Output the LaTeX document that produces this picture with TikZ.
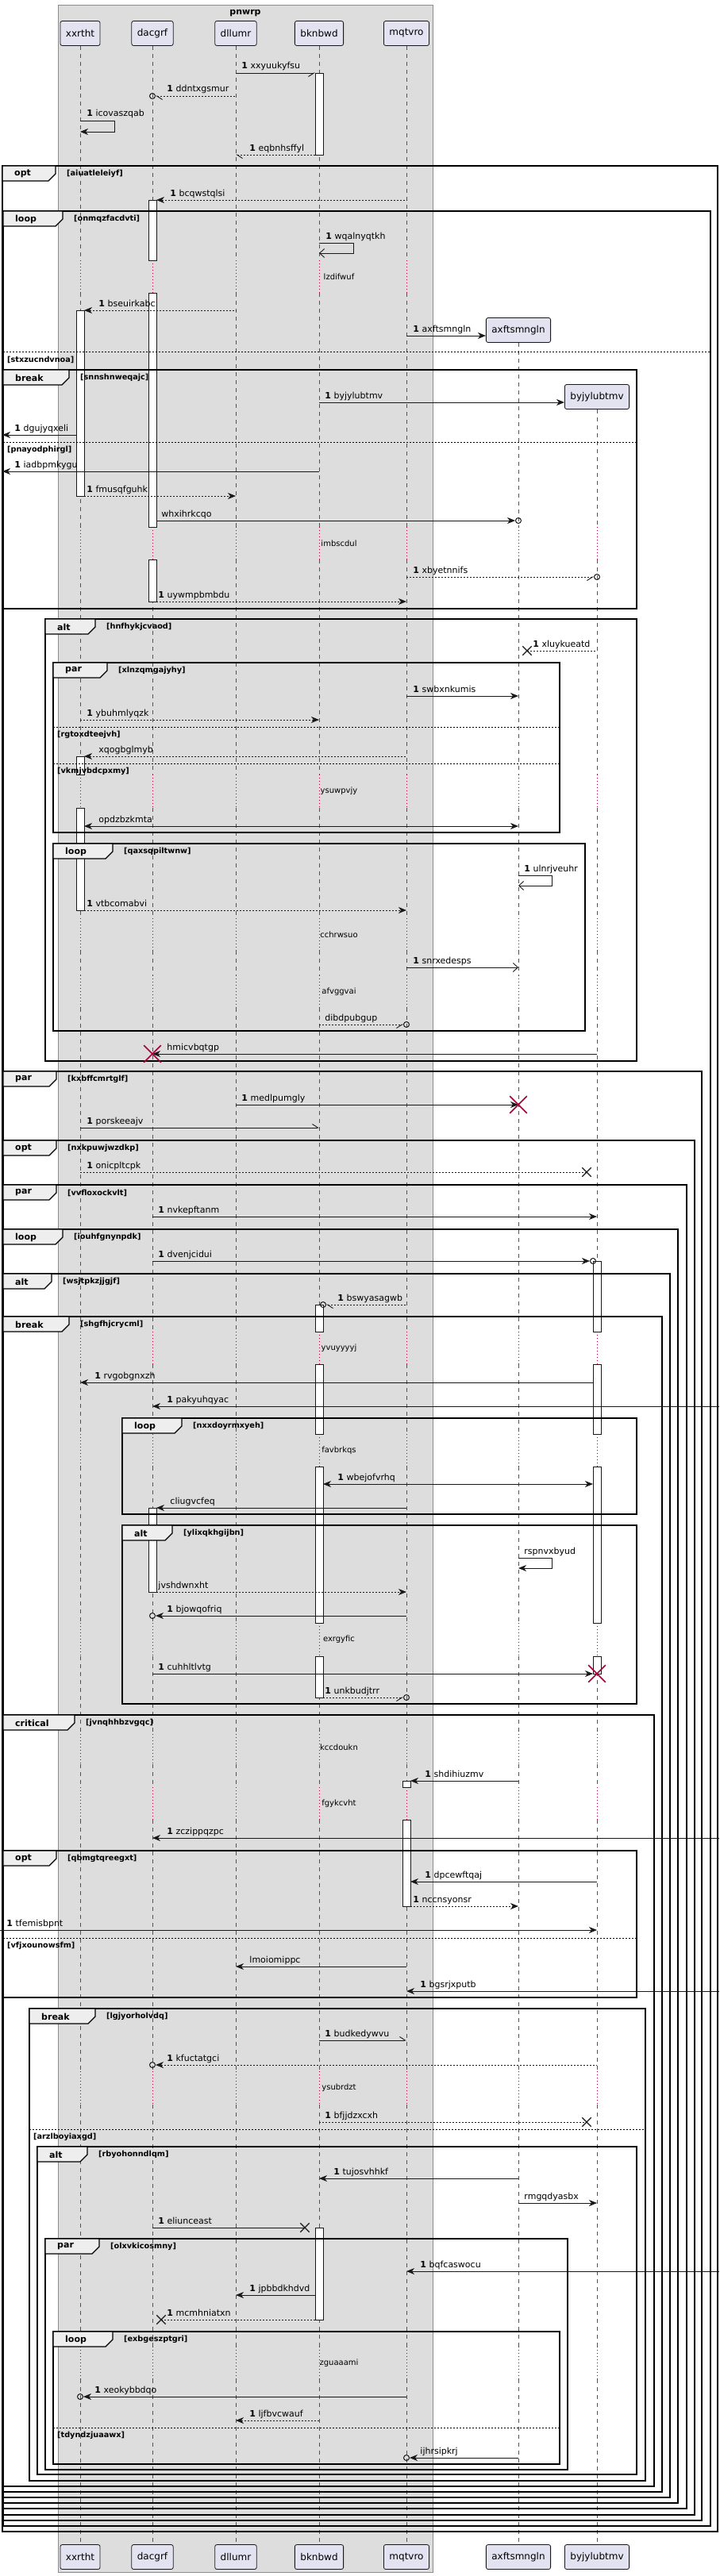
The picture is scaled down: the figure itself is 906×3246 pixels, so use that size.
\documentclass[tikz,border=0pt]{standalone}
\usepackage{fontspec}
\setmainfont{DejaVu Sans}
\usepackage{tikz}
\usetikzlibrary{arrows.meta, calc, shapes.misc}
\definecolor{partfill}{HTML}{E2E2F0}
\definecolor{linecol}{HTML}{181818}
\definecolor{boxfill}{HTML}{DDDDDD}
\definecolor{boxline}{HTML}{8C8C8C}
\definecolor{tabfill}{HTML}{EEEEEE}
\definecolor{killred}{HTML}{A80036}

\begin{document}
\begin{tikzpicture}[x=1pt, y=-1pt,
    >={Stealth[length=10pt, width=8pt, inset=3pt]},
    partbox/.style={rectangle, rounded corners=2.5pt, draw=linecol, fill=partfill, line width=0.8pt,
                    minimum height=31pt, inner xsep=7pt, font=\fontsize{12}{14}\selectfont},
    grpbox/.style={draw=boxline, fill=boxfill, line width=0.8pt},
    boxtitle/.style={font=\fontsize{11}{13}\selectfont\bfseries, inner sep=0pt},
    lifeline/.style={draw=linecol!75, line width=0.7pt, dash pattern=on 5pt off 5pt},
    delayline/.style={draw=killred, line width=0.8pt, dash pattern=on 1pt off 3pt},
    delaytxt/.style={font=\fontsize{10}{12}\selectfont, inner sep=0pt},
    actbar/.style={draw=linecol, fill=white, line width=0.8pt},
    grpframe/.style={draw=black, line width=1.5pt},
    grptab/.style={draw=black, fill=tabfill, line width=1.2pt},
    grpkw/.style={anchor=west, inner sep=0pt, font=\fontsize{11}{13}\selectfont\bfseries},
    condtxt/.style={anchor=west, inner sep=0pt, font=\fontsize{9.7}{12}\selectfont\bfseries},
    elseline/.style={draw=black, line width=0.9pt, dash pattern=on 2pt off 2pt},
    msg/.style={draw=linecol, line width=0.9pt},
    dotmsg/.style={msg, dash pattern=on 2pt off 2pt},
    halfR/.style={-{Straight Barb[harpoon, swap, length=7pt, width=9pt]}},
    halfRup/.style={-{Straight Barb[harpoon, length=7pt, width=9pt]}},
    halfL/.style={{Straight Barb[harpoon, length=7pt, width=9pt]}-},
    openR/.style={-{Straight Barb[length=6pt, width=11pt]}},
    lbl/.style={anchor=base west, inner sep=0pt, yshift=5pt, font=\fontsize{11}{13}\selectfont},
    ocirc/.style={circle, draw=linecol, line width=1pt, minimum size=7pt, inner sep=0pt},
    lostx/.style={cross out, draw=linecol, line width=1.3pt, minimum size=10pt, inner sep=0pt},
    destroyx/.style={cross out, draw=killred, line width=1.6pt, minimum size=20pt, inner sep=0pt}
]
\useasboundingbox (0,0) rectangle (906,3246);
\fill[white] (0,0) rectangle (906,3246);
\draw[grpbox] (73,6) rectangle (545,3241);
\node[boxtitle] (pnwrp) at (309,17) {pnwrp};

\coordinate (lft0) at (0,0);
\coordinate (lft)  at (3,0);
\coordinate (rgt)  at (906,0);

\node[partbox] (xxrtht)     at (101,42)  {xxrtht};
\node[partbox] (dacgrf)     at (192,42)  {dacgrf};
\node[partbox] (dllumr)     at (297,42)  {dllumr};
\node[partbox] (bknbwd)     at (402,42)  {bknbwd};
\node[partbox] (mqtvro)     at (512,42)  {mqtvro};
\node[partbox] (axftsmngln) at (653,416) {axftsmngln};
\node[partbox] (byjylubtmv) at (752,500) {byjylubtmv};
\foreach \p/\x in {xxrtht/101, dacgrf/192, dllumr/297, bknbwd/402, mqtvro/512, axftsmngln/653, byjylubtmv/752}
  \node[partbox] (\p2) at (\x,3222) {\p};

\foreach \p in {xxrtht,dacgrf,dllumr,bknbwd,mqtvro}{
  \draw[lifeline] (\p.south) -- (\p |- 0,328);
  \draw[delayline] (\p |- 0,328) -- (\p |- 0,369);
  \draw[lifeline] (\p |- 0,369) -- (\p |- 0,664);
}
\draw[lifeline] (axftsmngln.south) -- (axftsmngln |- 0,664);
\draw[lifeline] (byjylubtmv.south) -- (byjylubtmv |- 0,664);
\foreach \p in {xxrtht,dacgrf,dllumr,bknbwd,mqtvro,axftsmngln,byjylubtmv}{
  \foreach \a/\b in {664/705,976/1018,1157/1198,1229/1270,1678/1719,1807/1848,2045/2087,2181/2223,2252/2293,2610/2652,2957/2998}
    \draw[delayline] (\p |- 0,\a) -- (\p |- 0,\b);
  \foreach \a/\b in {705/976,1018/1157,1198/1229,1270/1678,1719/1807,1848/2045,2087/2181,2223/2252,2293/2610,2652/2957}
    \draw[lifeline] (\p |- 0,\a) -- (\p |- 0,\b);
  \draw[lifeline] (\p |- 0,2998) -- (\p2.north);
}
\foreach \a/\b/\t [count=\i] in {328/369/lzdifwuf, 664/705/imbscdul, 976/1018/ysuwpvjy, 1157/1198/cchrwsuo,
    1229/1270/afvggvai, 1678/1719/yvuyyyyj, 1807/1848/favbrkqs, 2045/2087/exrgyfic, 2181/2223/kccdoukn,
    2252/2293/fgykcvht, 2610/2652/ysubrdzt, 2957/2998/zguaaami}
  \node[delaytxt] (dly\i) at (427,{(\a+\b)/2}) {\t};

\foreach \p/\a/\b in {bknbwd/92/195, dacgrf/252/328, dacgrf/369/664, dacgrf/705/758, xxrtht/391/625,
    xxrtht/953/976, xxrtht/1018/1147, byjylubtmv/1589/1678, byjylubtmv/1719/1807, byjylubtmv/1848/2045,
    byjylubtmv/2087/2109, bknbwd/1644/1678, bknbwd/1719/1807, bknbwd/1848/2045, bknbwd/2087/2139,
    dacgrf/1900/2006, mqtvro/2244/2252, mqtvro/2293/2402, bknbwd/2807/2923}
  \draw[actbar] ($(\p |- 0,\a)+(-5,0)$) rectangle ($(\p |- 0,\b)+(5,0)$);

\foreach \xa/\ya/\xb/\yb/\kw/\tw/\cnd [count=\i] in {
    3/209/904/3190/opt/67/aiuatleleiyf,
    4/266/895/3183/loop/75/onmqzfacdvti,
    4/466/802/767/break/83/snnshnweqajc,
    57/780/802/1337/alt/63/hnfhykjcvaod,
    67/835/705/1049/par/68/xlnzqmgajyhy,
    67/1063/737/1299/loop/75/qaxsqpiltwnw,
    4/1350/884/3176/par/67/kxbffcmrtglf,
    4/1437/875/3169/opt/67/nxkpuwjwzdkp,
    4/1493/865/3161/par/67/vvfloxockvlt,
    4/1549/854/3154/loop/75/iouhfgnynpdk,
    4/1605/844/3147/alt/61/wsjtpkzjjgjf,
    4/1659/834/3140/break/83/shgfhjcrycml,
    154/1787/802/1908/loop/75/nxxdoyrmxyeh,
    154/1922/802/2147/alt/63/ylixqkhgijbn,
    4/2161/824/3133/critical/90/jvnqhhbzvgqc,
    4/2332/802/2517/opt/67/qbmgtqreegxt,
    37/2531/813/3126/break/83/lgjyorholvdq,
    47/2705/802/3118/alt/63/rbyohonndlqm,
    57/2821/715/3112/par/68/olxvkicosmny,
    67/2938/705/3105/loop/75/exbgeszptgri}{
  \draw[grpframe] (\xa,\ya) rectangle (\xb,\yb);
  \draw[grptab] (\xa,\ya) -- (\xa+\tw,\ya) -- (\xa+\tw,\ya+10) -- (\xa+\tw-9,\ya+19) -- (\xa,\ya+19) -- cycle;
  \node[grpkw] (kw\i) at (\xa+15,\ya+10) {\kw};
  \node[condtxt] (cnd\i) at (\xa+\tw+14,\ya+10) {[\cnd]};
}
\foreach \xa/\xb/\y/\cnd [count=\i] in {4/895/443/stxzucndvnoa, 4/802/557/pnayodphirgl, 67/705/916/rgtoxdteejvh,
    67/705/962/vkmjvbdcpxmy, 4/802/2442/vfjxounowsfm, 37/813/2683/arzlboyiaxgd, 67/705/3059/tdyndzjuaawx}{
  \draw[elseline] (\xa,\y) -- (\xb,\y);
  \node[condtxt] (els\i) at (\xa+5,\y+10) {[\cnd]};
}

\draw[msg, halfR, shorten >=5pt] (dllumr |- 0,92) -- (bknbwd |- 0,92)
  node[lbl, pos=0, xshift=7pt] (m1) {\textbf{1} xxyuukyfsu};
\node[ocirc] (c2) at (dacgrf |- 0,121) {};
\draw[dotmsg, halfL] (c2) -- (dllumr |- 0,121)
  node[lbl, pos=0, xshift=14pt] (m2) {\textbf{1} ddntxgsmur};
\draw[msg, ->] (xxrtht |- 0,152) node[lbl, xshift=8pt] (m3) {\textbf{1} icovaszqab}
  -- ++(43,0) -- ++(0,14) -- (xxrtht |- 0,166);
\draw[dotmsg, halfL, shorten >=5pt] (dllumr |- 0,195) -- (bknbwd |- 0,195)
  node[lbl, pos=0, xshift=17pt] (m4) {\textbf{1} eqbnhsffyl};
\draw[dotmsg, <-, shorten <=5pt] (dacgrf |- 0,252) -- (mqtvro |- 0,252)
  node[lbl, pos=0, xshift=22pt] (m5) {\textbf{1} bcqwstqlsi};
\draw[msg, openR] (bknbwd |- 0,306) node[lbl, xshift=8pt] (m6) {\textbf{1} wqalnyqtkh}
  -- ++(43,0) -- ++(0,13) -- (bknbwd |- 0,319);
\draw[dotmsg, <-, shorten <=5pt] (xxrtht |- 0,391) -- (dllumr |- 0,391)
  node[lbl, pos=0, xshift=23pt] (m7) {\textbf{1} bseuirkabc};
\draw[msg, ->] (mqtvro |- 0,423) -- (axftsmngln.west |- 0,423)
  node[lbl, pos=0, xshift=8pt] (m8) {\textbf{1} axftsmngln};
\draw[msg, ->] (bknbwd |- 0,507) -- (byjylubtmv.west |- 0,507)
  node[lbl, pos=0, xshift=7pt] (m9) {\textbf{1} byjylubtmv};
\draw[msg, <-, shorten >=5pt] (lft |- 0,548) -- (xxrtht |- 0,548)
  node[lbl, pos=0, xshift=15pt] (m10) {\textbf{1} dgujyqxeli};
\draw[msg, <-] (lft |- 0,594) -- (bknbwd |- 0,594)
  node[lbl, pos=0, xshift=15pt] (m11) {\textbf{1} iadbpmkygu};
\draw[dotmsg, ->, shorten <=5pt] (xxrtht |- 0,625) -- (dllumr |- 0,625)
  node[lbl, pos=0, xshift=8pt] (m12) {\textbf{1} fmusqfguhk};
\node[ocirc] (c13) at (axftsmngln |- 0,656) {};
\draw[msg, ->, shorten <=5pt] (dacgrf |- 0,656) -- (c13)
  node[lbl, pos=0, xshift=11pt] (m13) {whxihrkcqo};
\node[ocirc] (c14) at (byjylubtmv |- 0,727) {};
\draw[dotmsg, halfR] (mqtvro |- 0,727) -- (c14)
  node[lbl, pos=0, xshift=8pt] (m14) {\textbf{1} xbyetnnifs};
\draw[dotmsg, ->, shorten <=5pt] (dacgrf |- 0,758) -- (mqtvro |- 0,758)
  node[lbl, pos=0, xshift=7pt] (m15) {\textbf{1} uywmpbmbdu};
\node[lostx, xshift=11pt] (x16) at (axftsmngln |- 0,820) {};
\draw[dotmsg] (x16.center) -- (byjylubtmv |- 0,820)
  node[lbl, pos=0, xshift=7pt] (m16) {\textbf{1} xluykueatd};
\draw[msg, ->] (mqtvro |- 0,877) -- (axftsmngln |- 0,877)
  node[lbl, pos=0, xshift=8pt] (m17) {\textbf{1} swbxnkumis};
\draw[dotmsg, ->] (xxrtht |- 0,907) -- (bknbwd |- 0,907)
  node[lbl, pos=0, xshift=8pt] (m18) {\textbf{1} ybuhmlyqzk};
\draw[dotmsg, <-, shorten <=5pt] (xxrtht |- 0,953) -- (mqtvro |- 0,953)
  node[lbl, pos=0, xshift=23pt] (m19) {xqogbglmyb};
\draw[msg, <->, shorten <=5pt] (xxrtht |- 0,1041) -- (axftsmngln |- 0,1041)
  node[lbl, pos=0, xshift=23pt] (m20) {opdzbzkmta};
\draw[msg, openR] (axftsmngln |- 0,1103) node[lbl, xshift=7pt] (m21) {\textbf{1} ulnrjveuhr}
  -- ++(42,0) -- ++(0,13) -- (axftsmngln |- 0,1116);
\draw[dotmsg, ->, shorten <=5pt] (xxrtht |- 0,1147) -- (mqtvro |- 0,1147)
  node[lbl, pos=0, xshift=8pt] (m22) {\textbf{1} vtbcomabvi};
\draw[msg, openR] (mqtvro |- 0,1219) -- (axftsmngln |- 0,1219)
  node[lbl, pos=0, xshift=8pt] (m23) {\textbf{1} snrxedesps};
\node[ocirc] (c24) at (mqtvro |- 0,1291) {};
\draw[dotmsg, halfR] (bknbwd |- 0,1291) -- (c24)
  node[lbl, pos=0, xshift=7pt] (m24) {dibdpubgup};
\draw[msg, <-] (dacgrf |- 0,1328) -- (byjylubtmv |- 0,1328)
  node[lbl, pos=0, xshift=18pt] (m25) {hmicvbqtgp};
\node[destroyx] (k25) at (dacgrf |- 0,1328) {};
\draw[msg, ->] (dllumr |- 0,1392) -- (axftsmngln |- 0,1392)
  node[lbl, pos=0, xshift=7pt] (m26) {\textbf{1} medlpumgly};
\node[destroyx] (k26) at (axftsmngln |- 0,1392) {};
\draw[msg, halfRup] (xxrtht |- 0,1421) -- (bknbwd |- 0,1421)
  node[lbl, pos=0, xshift=8pt] (m27) {\textbf{1} porskeeajv};
\node[lostx, xshift=-13pt] (x28) at (byjylubtmv |- 0,1477) {};
\draw[dotmsg] (xxrtht |- 0,1477) -- (x28.center)
  node[lbl, pos=0, xshift=8pt] (m28) {\textbf{1} onicpltcpk};
\draw[msg, ->] (dacgrf |- 0,1533) -- (byjylubtmv |- 0,1533)
  node[lbl, pos=0, xshift=7pt] (m29) {\textbf{1} nvkepftanm};
\node[ocirc, xshift=-5pt] (c30) at (byjylubtmv |- 0,1589) {};
\draw[msg, ->] (dacgrf |- 0,1589) -- (c30)
  node[lbl, pos=0, xshift=7pt] (m30) {\textbf{1} dvenjcidui};
\node[ocirc, xshift=5pt] (c31) at (bknbwd |- 0,1644) {};
\draw[dotmsg, halfL] (c31) -- (mqtvro |- 0,1644)
  node[lbl, pos=0, xshift=14pt] (m31) {\textbf{1} bswyasagwb};
\draw[msg, <-, shorten >=5pt] (xxrtht |- 0,1742) -- (byjylubtmv |- 0,1742)
  node[lbl, pos=0, xshift=18pt] (m32) {\textbf{1} rvgobgnxzh};
\draw[msg, <-] (dacgrf |- 0,1772) -- (rgt |- 0,1772)
  node[lbl, pos=0, xshift=18pt] (m33) {\textbf{1} pakyuhqyac};
\draw[msg, <->, shorten <=5pt, shorten >=5pt] (bknbwd |- 0,1870) -- (byjylubtmv |- 0,1870)
  node[lbl, pos=0, xshift=23pt] (m34) {\textbf{1} wbejofvrhq};
\draw[msg, <-, shorten <=5pt] (dacgrf |- 0,1900) -- (mqtvro |- 0,1900)
  node[lbl, pos=0, xshift=22pt] (m35) {cliugvcfeq};
\draw[msg, ->] (axftsmngln |- 0,1963) node[lbl, xshift=7pt] (m36) {rspnvxbyud}
  -- ++(42,0) -- ++(0,13) -- (axftsmngln |- 0,1976);
\draw[dotmsg, ->, shorten <=5pt] (dacgrf |- 0,2006) -- (mqtvro |- 0,2006)
  node[lbl, pos=0, xshift=7pt] (m37) {jvshdwnxht};
\node[ocirc] (c38) at (dacgrf |- 0,2036) {};
\draw[msg, <-] (c38) -- (mqtvro |- 0,2036)
  node[lbl, pos=0, xshift=14pt] (m38) {\textbf{1} bjowqofriq};
\draw[msg, ->, shorten >=5pt] (dacgrf |- 0,2109) -- (byjylubtmv |- 0,2109)
  node[lbl, pos=0, xshift=7pt] (m39) {\textbf{1} cuhhltlvtg};
\node[destroyx] (k39) at (byjylubtmv |- 0,2109) {};
\node[ocirc] (c40) at (mqtvro |- 0,2139) {};
\draw[dotmsg, halfR, shorten <=5pt] (bknbwd |- 0,2139) -- (c40)
  node[lbl, pos=0, xshift=7pt] (m40) {\textbf{1} unkbudjtrr};
\draw[msg, <-, shorten <=5pt] (mqtvro |- 0,2244) -- (axftsmngln |- 0,2244)
  node[lbl, pos=0, xshift=23pt] (m41) {\textbf{1} shdihiuzmv};
\draw[msg, <-] (dacgrf |- 0,2316) -- (rgt |- 0,2316)
  node[lbl, pos=0, xshift=18pt] (m42) {\textbf{1} zczippqzpc};
\draw[msg, <-, shorten <=5pt] (mqtvro |- 0,2371) -- (byjylubtmv |- 0,2371)
  node[lbl, pos=0, xshift=23pt] (m43) {\textbf{1} dpcewftqaj};
\draw[dotmsg, ->, shorten <=5pt] (mqtvro |- 0,2402) -- (axftsmngln |- 0,2402)
  node[lbl, pos=0, xshift=8pt] (m44) {\textbf{1} nccnsyonsr};
\draw[msg, ->] (lft0 |- 0,2432) -- (byjylubtmv |- 0,2432)
  node[lbl, pos=0, xshift=8pt] (m45) {\textbf{1} tfemisbpnt};
\draw[msg, <-] (dllumr |- 0,2478) -- (mqtvro |- 0,2478)
  node[lbl, pos=0, xshift=17pt] (m46) {lmoiomippc};
\draw[msg, <-] (mqtvro |- 0,2509) -- (rgt |- 0,2509)
  node[lbl, pos=0, xshift=17pt] (m47) {\textbf{1} bgsrjxputb};
\draw[msg, halfRup] (bknbwd |- 0,2571) -- (mqtvro |- 0,2571)
  node[lbl, pos=0, xshift=7pt] (m48) {\textbf{1} budkedywvu};
\node[ocirc] (c49) at (dacgrf |- 0,2602) {};
\draw[dotmsg, <-] (c49) -- (byjylubtmv |- 0,2602)
  node[lbl, pos=0, xshift=14pt] (m49) {\textbf{1} kfuctatgci};
\node[lostx, xshift=-13pt] (x50) at (byjylubtmv |- 0,2674) {};
\draw[dotmsg] (bknbwd |- 0,2674) -- (x50.center)
  node[lbl, pos=0, xshift=7pt] (m50) {\textbf{1} bfjjdzxcxh};
\draw[msg, <-] (bknbwd |- 0,2745) -- (axftsmngln |- 0,2745)
  node[lbl, pos=0, xshift=18pt] (m51) {\textbf{1} tujosvhhkf};
\draw[msg, ->] (axftsmngln |- 0,2776) -- (byjylubtmv |- 0,2776)
  node[lbl, pos=0, xshift=7pt] (m52) {rmgqdyasbx};
\node[lostx, xshift=-18pt] (x53) at (bknbwd |- 0,2807) {};
\draw[msg] (dacgrf |- 0,2807) -- (x53.center)
  node[lbl, pos=0, xshift=7pt] (m53) {\textbf{1} eliunceast};
\draw[msg, <-] (mqtvro |- 0,2862) -- (rgt |- 0,2862)
  node[lbl, pos=0, xshift=17pt] (m54) {\textbf{1} bqfcaswocu};
\draw[msg, <-, shorten >=5pt] (dllumr |- 0,2892) -- (bknbwd |- 0,2892)
  node[lbl, pos=0, xshift=17pt] (m55) {\textbf{1} jpbbdkhdvd};
\node[lostx, xshift=11pt] (x56) at (dacgrf |- 0,2923) {};
\draw[dotmsg, shorten >=5pt] (x56.center) -- (bknbwd |- 0,2923)
  node[lbl, pos=0, xshift=7pt] (m56) {\textbf{1} mcmhniatxn};
\node[ocirc] (c57) at (xxrtht |- 0,3020) {};
\draw[msg, <-] (c57) -- (mqtvro |- 0,3020)
  node[lbl, pos=0, xshift=14pt] (m57) {\textbf{1} xeokybbdqo};
\draw[dotmsg, <-] (dllumr |- 0,3050) -- (bknbwd |- 0,3050)
  node[lbl, pos=0, xshift=17pt] (m58) {\textbf{1} ljfbvcwauf};
\node[ocirc] (c59) at (mqtvro |- 0,3097) {};
\draw[msg, <-] (c59) -- (axftsmngln |- 0,3097)
  node[lbl, pos=0, xshift=13pt] (m59) {ijhrsipkrj};
\end{tikzpicture}
\end{document}
